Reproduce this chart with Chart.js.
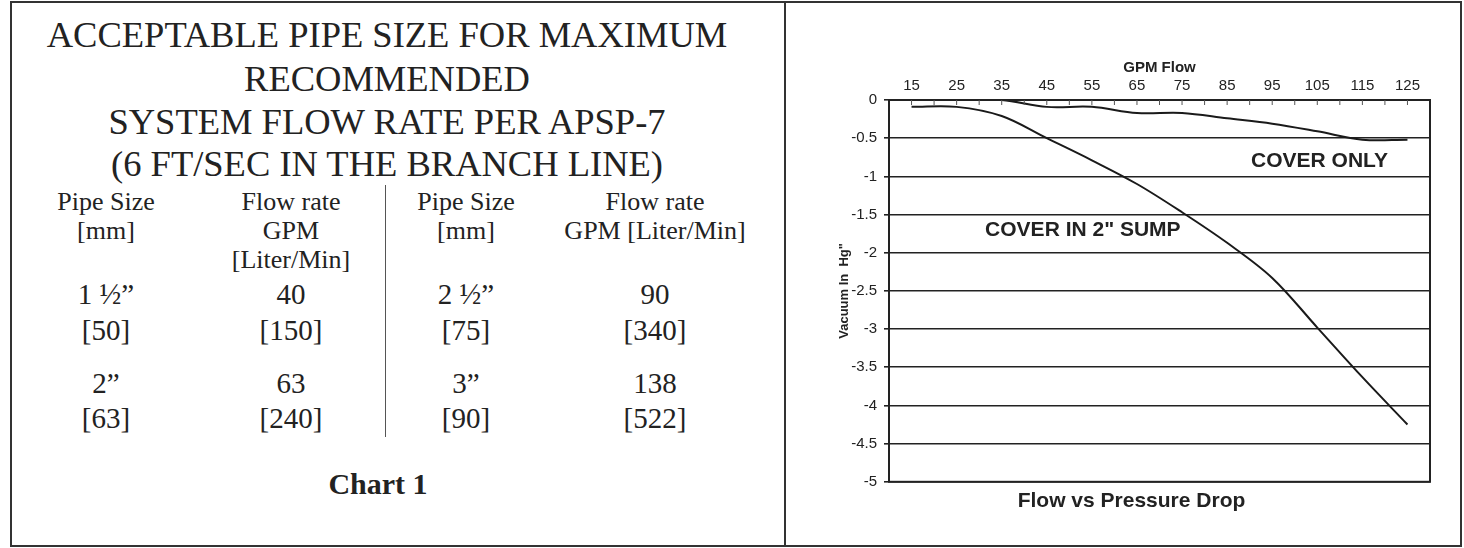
<!DOCTYPE html>
<html>
<head>
<meta charset="utf-8">
<script src="https://cdn.jsdelivr.net/npm/chart.js@4/dist/chart.umd.min.js"></script>
<style>
  html, body { margin: 0; padding: 0; background: #fff; }
  body { width: 1464px; height: 548px; position: relative; overflow: hidden; font-family: "Liberation Serif", "Times New Roman", serif; color: #222; }
  .panel { position: absolute; border: 2px solid #333; box-sizing: border-box; }
  .t { position: absolute; white-space: nowrap; text-align: center; transform: translateX(-50%); }
  .title { font-size: 36.5px; line-height: 40px; }
  .hd { font-size: 26px; line-height: 30px; }
  .dt { font-size: 29px; line-height: 34px; }
  #divider { position: absolute; left: 385px; top: 185px; width: 1px; height: 252px; background: #555; }
  #chartBox { position: absolute; left: 786px; top: 4px; width: 672px; height: 538px; }
</style>
</head>
<body>
<div class="panel" style="left:10px; top:1px; width:776px; height:546px;"></div>
<div class="panel" style="left:784px; top:1px; width:678px; height:546px;"></div>

<div id="table"></div>
<div id="divider"></div>

<div id="chartBox"><canvas id="flowChart" width="672" height="538"></canvas></div>

<script>
// 表のテキスト
const titleLines = ['ACCEPTABLE PIPE SIZE FOR MAXIMUM', 'RECOMMENDED', 'SYSTEM FLOW RATE PER APSP-7', '(6 FT/SEC IN THE BRANCH LINE)'];
const headRow1 = ['Pipe Size', 'Flow rate', 'Pipe Size', 'Flow rate'];
const headRow2 = ['[mm]', 'GPM', '[mm]', 'GPM [Liter/Min]'];
const headRow3 = ['', '[Liter/Min]', '', ''];
const rowInch1 = ['1 ½”', '40', '2 ½”', '90'];
const rowMm1 = ['[50]', '[150]', '[75]', '[340]'];
const rowInch2 = ['2”', '63', '3”', '138'];
const rowMm2 = ['[63]', '[240]', '[90]', '[522]'];
const captionText = 'Chart 1';

// グラフのデータ
const gpmFlow = [15, 25, 35, 45, 55, 65, 75, 85, 95, 105, 115, 125];
const coverOnly = [0, 0, 0, -0.09, -0.09, -0.17, -0.17, -0.24, -0.31, -0.41, -0.52, -0.52];
const coverInSump = [-0.09, -0.09, -0.21, -0.5, -0.79, -1.1, -1.47, -1.87, -2.33, -2.98, -3.63, -4.25];
const yTickLabels = ['0', '-0.5', '-1', '-1.5', '-2', '-2.5', '-3', '-3.5', '-4', '-4.5', '-5'];
const seriesNames = ['COVER ONLY', 'COVER IN 2" SUMP'];
const noteX = [105.5, 53];
const noteY = [-0.8, -1.7];

const colX = [106, 291, 466, 655];

const addText = (txt, x, y, cls, extra) => {
    const d = document.createElement('div');
    d.className = 't ' + cls;
    d.textContent = txt;
    d.style.left = x + 'px';
    d.style.top = y + 'px';
    if (extra) d.style.cssText += extra;
    document.getElementById('table').appendChild(d);
};

// タイトル
const titleY = [15, 59, 102, 144];
titleLines.forEach((s, i) => addText(s, 387, titleY[i], 'title'));

// 表の行
const rows = [[headRow1, 187, 'hd'], [headRow2, 216, 'hd'], [headRow3, 245, 'hd'],
              [rowInch1, 277, 'dt'], [rowMm1, 313, 'dt'], [rowInch2, 366, 'dt'], [rowMm2, 401, 'dt']];
rows.forEach(r => {
    r[0].forEach((s, i) => { if (s) addText(s, colX[i], r[1], r[2]); });
});
addText(captionText, 378, 467, 'dt', 'font-weight:bold;font-size:30px;');

// 枠と目盛り・注記
const framePlugin = {
    id: 'frame',
    afterDatasetsDraw(chart) {
        const ctx = chart.ctx;
        const a = chart.chartArea;
        const xs = chart.scales.x;
        const ys = chart.scales.y;
        ctx.save();
        ctx.strokeStyle = '#222';
        ctx.lineWidth = 2;
        ctx.strokeRect(a.left, a.top, a.right - a.left, a.bottom - a.top);
        // 内向きの目盛り
        ctx.lineWidth = 1;
        ctx.strokeStyle = '#555';
        xs.ticks.forEach(t => {
            const px = xs.getPixelForValue(t.value);
            if (px <= a.left + 1 || px >= a.right - 1) return;
            ctx.beginPath();
            ctx.moveTo(px, a.top);
            ctx.lineTo(px, a.top + 5);
            ctx.stroke();
        });
        // 注記
        ctx.fillStyle = '#222';
        ctx.font = 'bold 21px "Liberation Sans", Arial, sans-serif';
        ctx.textAlign = 'center';
        ctx.textBaseline = 'middle';
        seriesNames.forEach((s, i) => {
            ctx.fillText(s, xs.getPixelForValue(noteX[i]), ys.getPixelForValue(noteY[i]));
        });
        ctx.restore();
    }
};

const lineStyle = {
    borderColor: '#1a1a1a',
    borderWidth: 2,
    pointRadius: 0,
    tension: 0.35,
    fill: false
};

const sansFont = '"Liberation Sans", Arial, sans-serif';

document.addEventListener('DOMContentLoaded', function() {
    const ctx1 = document.getElementById('flowChart').getContext('2d');
    new Chart(ctx1, {
        type: 'line',
        data: {
            datasets: [
                Object.assign({ label: seriesNames[0], data: gpmFlow.map((x, i) => ({ x: x, y: coverOnly[i] })) }, lineStyle),
                Object.assign({ label: seriesNames[1], data: gpmFlow.map((x, i) => ({ x: x, y: coverInSump[i] })) }, lineStyle)
            ]
        },
        options: {
            responsive: false,
            animation: false,
            layout: { padding: { left: 47, right: 28, top: 51, bottom: 28 } },
            plugins: {
                legend: { display: false },
                tooltip: { enabled: false },
                title: {
                    display: true,
                    position: 'bottom',
                    text: 'Flow vs Pressure Drop',
                    color: '#222',
                    font: { family: sansFont, size: 21, weight: 'bold' },
                    padding: { top: 7, bottom: 0 }
                }
            },
            scales: {
                x: {
                    type: 'linear',
                    position: 'top',
                    min: 10,
                    max: 130,
                    afterFit(scale) { scale.height = 45; },
                    grid: { display: true, drawOnChartArea: false, drawTicks: false },
                    border: { display: true, color: '#222', width: 2 },
                    ticks: {
                        stepSize: 5,
                        autoSkip: false,
                        maxRotation: 0,
                        padding: 5,
                        color: '#222',
                        font: { family: sansFont, size: 15 },
                        callback: (v) => gpmFlow.includes(v) ? String(v) : ''
                    },
                    title: {
                        display: true,
                        text: 'GPM Flow',
                        color: '#222',
                        padding: { top: 4, bottom: 0 },
                        font: { family: sansFont, size: 15, weight: 'bold' }
                    }
                },
                y: {
                    min: -5,
                    max: 0,
                    afterFit(scale) { scale.width = 56; },
                    grid: { color: '#222', lineWidth: 1.6, drawTicks: true, tickLength: 5 },
                    border: { display: true, color: '#222', width: 2 },
                    ticks: {
                        stepSize: 0.5,
                        padding: 7,
                        color: '#222',
                        font: { family: sansFont, size: 15 },
                        callback: (v, i) => yTickLabels[yTickLabels.length - 1 - i]
                    },
                    title: {
                        display: true,
                        text: 'Vacuum In  Hg"',
                        color: '#222',
                        font: { family: sansFont, size: 13, weight: 'bold' }
                    }
                }
            }
        },
        plugins: [framePlugin]
    });
});
</script>
</body>
</html>
